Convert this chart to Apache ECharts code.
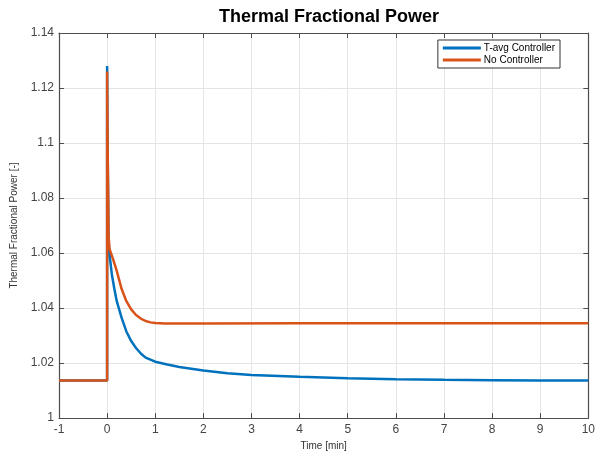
<!DOCTYPE html>
<html>
<head>
<meta charset="utf-8">
<script src="https://cdn.jsdelivr.net/npm/echarts@6/dist/echarts.min.js"></script>
<style>html,body{margin:0;padding:0;background:#fff;}#c{width:598px;height:456px;}</style>
</head>
<body>
<div id="c"></div>
<script>
var seriesNames = ['T-avg Controller', 'No Controller'];
var timeAvg = [-1, 0, 0, 0.01, 0.03, 0.06, 0.1, 0.15, 0.2, 0.3, 0.4, 0.5, 0.6, 0.7, 0.8, 1.0, 1.25, 1.5, 2, 2.5, 3, 4, 5, 6, 7, 8, 9, 10];
var powerAvg = [1.0137, 1.0137, 1.128, 1.10, 1.064, 1.058, 1.052, 1.047, 1.0425, 1.0365, 1.0315, 1.028, 1.0255, 1.0235, 1.022, 1.0205, 1.0195, 1.0186, 1.0173, 1.0163, 1.0157, 1.0150, 1.0145, 1.0141, 1.0139, 1.0138, 1.0137, 1.0137];
var timeNo = [-1, 0, 0, 0.01, 0.03, 0.05, 0.08, 0.12, 0.2, 0.3, 0.4, 0.5, 0.6, 0.7, 0.8, 0.9, 1.0, 1.2, 2, 4, 6, 8, 10];
var powerNo = [1.0137, 1.0137, 1.126, 1.10, 1.066, 1.0615, 1.061, 1.058, 1.0535, 1.047, 1.0425, 1.0395, 1.0375, 1.0362, 1.0353, 1.0348, 1.0346, 1.0344, 1.0344, 1.0345, 1.0345, 1.0345, 1.0345];
var xTicks = [-1, 0, 1, 2, 3, 4, 5, 6, 7, 8, 9, 10];
var yTickLabels = ['1', '1.02', '1.04', '1.06', '1.08', '1.1', '1.12', '1.14'];

function pairs(xs, ys) { return xs.map(function (x, i) { return [x, ys[i]]; }); }

var font = 'Liberation Sans, Arial, sans-serif';
var axisColor = '#4d4d4d';
var labelColor = '#444';
var chart = echarts.init(document.getElementById('c'), null, {renderer: 'canvas'});
var baseX = {
  type: 'value', min: xTicks[0], max: xTicks[xTicks.length - 1], interval: 1
};
var baseY = {
  type: 'value', min: 1, max: 1.14, interval: 0.02
};
function line() { return {show: true, onZero: false, lineStyle: {color: axisColor, width: 1.2}}; }
function tick() { return {show: true, inside: true, length: 5, lineStyle: {color: axisColor}}; }
chart.setOption({
  animation: false,
  backgroundColor: '#fff',
  title: {
    text: 'Thermal Fractional Power', left: 324, top: 3, textAlign: 'center',
    textStyle: {fontFamily: font, fontSize: 18, fontWeight: 'bold', color: '#000'}
  },
  legend: {
    data: seriesNames, orient: 'vertical', right: 38, top: 40,
    backgroundColor: '#fff', borderColor: '#333', borderWidth: 1,
    padding: [3, 5, 3, 5], itemGap: 2, itemWidth: 38, itemHeight: 3,
    icon: 'rect',
    textStyle: {fontFamily: font, fontSize: 10, color: '#000', padding: [0, 0, 0, -2]}
  },
  grid: {left: 59, right: 8, top: 33, bottom: 33},
  xAxis: [
    Object.assign({}, baseX, {
      position: 'bottom',
      name: 'Time [min]', nameLocation: 'middle', nameGap: 20,
      nameTextStyle: {fontFamily: font, fontSize: 10, color: '#333'},
      axisLine: line(), axisTick: tick(),
      axisLabel: {fontFamily: font, fontSize: 12, color: labelColor, margin: 6},
      splitLine: {show: true, lineStyle: {color: '#e4e4e4', width: 1}}
    }),
    Object.assign({}, baseX, {
      position: 'top',
      axisLine: line(), axisTick: tick(),
      axisLabel: {show: false}, splitLine: {show: false}
    })
  ],
  yAxis: [
    Object.assign({}, baseY, {
      position: 'left',
      name: 'Thermal Fractional Power [-]', nameLocation: 'middle', nameGap: 40,
      nameTextStyle: {fontFamily: font, fontSize: 10, color: '#333'},
      axisLine: line(), axisTick: tick(),
      axisLabel: {
        fontFamily: font, fontSize: 12, color: labelColor, margin: 5,
        formatter: function (v) { return yTickLabels[Math.round((v - 1) / 0.02)]; }
      },
      splitLine: {show: true, lineStyle: {color: '#e4e4e4', width: 1}}
    }),
    Object.assign({}, baseY, {
      position: 'right',
      axisLine: line(), axisTick: tick(),
      axisLabel: {show: false}, splitLine: {show: false}
    })
  ],
  series: [
    {
      name: seriesNames[0], type: 'line', xAxisIndex: 0, yAxisIndex: 0,
      data: pairs(timeAvg, powerAvg), showSymbol: false, symbol: 'none',
      lineStyle: {color: '#0072BD', width: 2.5}, itemStyle: {color: '#0072BD'}, z: 3
    },
    {
      name: seriesNames[1], type: 'line', xAxisIndex: 0, yAxisIndex: 0,
      data: pairs(timeNo, powerNo), showSymbol: false, symbol: 'none',
      lineStyle: {color: '#D95319', width: 2.5}, itemStyle: {color: '#D95319'}, z: 4
    }
  ]
});
</script>
</body>
</html>
